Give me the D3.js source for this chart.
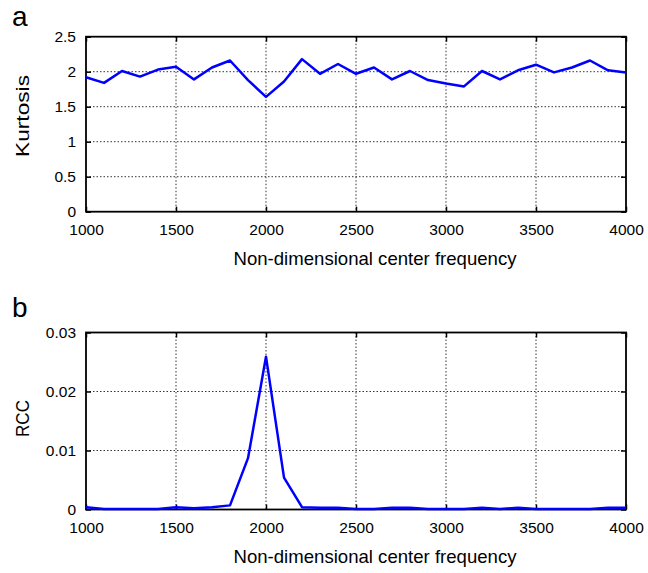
<!DOCTYPE html>
<html><head><meta charset="utf-8">
<script src="https://cdn.jsdelivr.net/npm/d3@7"></script>
<style>body{margin:0;background:#fff;}svg{display:block;font-family:"Liberation Sans",Arial,sans-serif;}</style>
</head><body>
<svg id="c" width="648" height="573"></svg>
<script>
const freq = d3.range(1000, 4001, 100);
const kurtosis = [1.92,1.84,2.01,1.93,2.03,2.07,1.89,2.06,2.16,1.88,1.64,1.86,2.18,1.97,2.11,1.97,2.06,1.89,2.01,1.88,1.83,1.79,2.01,1.89,2.02,2.10,1.99,2.06,2.16,2.02,1.99];
const rcc = [0.0004,0.0001,0.0001,0.0001,0.0001,0.0004,0.0002,0.0004,0.0007,0.0087,0.0259,0.0054,0.0004,0.0003,0.0003,0.0001,0.0001,0.0003,0.0003,0.0001,0.0001,0.0001,0.0003,0.0001,0.0003,0.0001,0.0001,0.0001,0.0001,0.0003,0.0003];
const xTicks = [1000,1500,2000,2500,3000,3500,4000];
const kTicks = [0,0.5,1,1.5,2,2.5];
const rTicks = [0,0.01,0.02,0.03];

const svg = d3.select("#c");
const x = d3.scaleLinear().domain([1000,4000]).range([86,626]);

function panel(opts){
  const {top,bottom,domain,yTicks,data,ylab,ylabLen,ylabY,letter,letterY,fmt} = opts;
  const y = d3.scaleLinear().domain(domain).range([bottom,top]);
  const g = svg.append("g");
  g.selectAll(".gx").data(xTicks.slice(1,-1)).join("line")
    .attr("x1",d=>x(d)).attr("x2",d=>x(d)).attr("y1",top).attr("y2",bottom)
    .attr("stroke","#000").attr("stroke-width",0.8).attr("stroke-dasharray","1.5,2");
  g.selectAll(".gy").data(yTicks.slice(1,-1)).join("line")
    .attr("y1",d=>y(d)).attr("y2",d=>y(d)).attr("x1",x.range()[0]).attr("x2",x.range()[1])
    .attr("stroke","#000").attr("stroke-width",0.8).attr("stroke-dasharray","1.5,2");
  const ax = g.append("g").attr("transform",`translate(0,${bottom})`)
    .call(d3.axisBottom(x).tickValues(xTicks).tickSize(-5).tickPadding(12).tickFormat(d3.format("d")));
  const axT = g.append("g").attr("transform",`translate(0,${top})`)
    .call(d3.axisTop(x).tickValues(xTicks).tickSize(-5).tickFormat(""));
  const ay = g.append("g").attr("transform",`translate(${x.range()[0]},0)`)
    .call(d3.axisLeft(y).tickValues(yTicks).tickSize(-5).tickPadding(10).tickFormat(fmt));
  const ayR = g.append("g").attr("transform",`translate(${x.range()[1]},0)`)
    .call(d3.axisRight(y).tickValues(yTicks).tickSize(-5).tickFormat(""));
  [ax,axT,ay,ayR].forEach(a=>{
    a.select(".domain").remove();
    a.selectAll("line").attr("stroke","#000").attr("stroke-width",1.5);
    a.selectAll("text").attr("font-size",15.5).attr("fill","#000").attr("font-family","Liberation Sans,Arial,sans-serif");
  });
  g.append("rect").attr("x",x.range()[0]).attr("y",top).attr("width",x.range()[1]-x.range()[0]).attr("height",bottom-top)
    .attr("fill","none").attr("stroke","#000").attr("stroke-width",1.8);
  const line = d3.line().x((d,i)=>x(freq[i])).y(d=>y(d));
  g.append("path").datum(data).attr("d",line).attr("fill","none").attr("stroke","#0000ff").attr("stroke-width",2.5).attr("stroke-linejoin","round");
  g.append("text").attr("x",375).attr("y",bottom+53).attr("text-anchor","middle")
    .attr("font-size",18.5).attr("textLength",283).attr("lengthAdjust","spacingAndGlyphs").text("Non-dimensional center frequency");
  g.append("text").attr("transform",`translate(29,${ylabY}) rotate(-90)`).attr("text-anchor","middle")
    .attr("font-size",19).attr("textLength",ylabLen).attr("lengthAdjust","spacingAndGlyphs").text(ylab);
  g.append("text").attr("x",12).attr("y",letterY).attr("font-size",28).text(letter);
}
panel({top:36.7,bottom:211.7,domain:[0,2.5],yTicks:kTicks,data:kurtosis,ylab:"Kurtosis",ylabLen:82,ylabY:116,letter:"a",letterY:25.5,fmt:d3.format("")});
panel({top:332.5,bottom:509.5,domain:[0,0.03],yTicks:rTicks,data:rcc,ylab:"RCC",ylabLen:37,ylabY:418.5,letter:"b",letterY:317,fmt:d=>d===0?"0":d3.format(".2f")(d)});
</script>
</body></html>
